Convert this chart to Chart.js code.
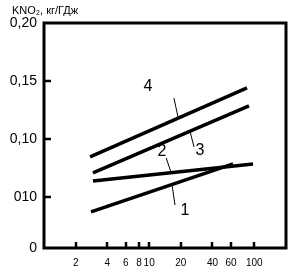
<!DOCTYPE html>
<html>
<head>
<meta charset="utf-8">
<script src="https://cdn.jsdelivr.net/npm/chart.js@4/dist/chart.umd.min.js"></script>
<style>
  html, body { margin: 0; padding: 0; background: #fff; }
  #wrap { width: 292px; height: 275px; }
</style>
</head>
<body>
<div id="wrap"><canvas id="chart" width="292" height="275"></canvas></div>
<script>
// --- data ---
const line1X = [2.80, 62.7];
const line1Y = [0.0371, 0.0785];
const line2X = [2.92, 97.1];
const line2Y = [0.0638, 0.0785];
const line3X = [2.92, 89.0];
const line3Y = [0.0707, 0.1285];
const line4X = [2.74, 85.2];
const line4Y = [0.0845, 0.1440];

// leader strokes from numbers to curves
const lead1X = [16.5, 17.6];
const lead1Y = [0.0604, 0.0431];
const lead2X = [14.5, 16.1];
const lead2Y = [0.0836, 0.0716];
const lead3X = [24.4, 26.7];
const lead3Y = [0.1069, 0.0931];
const lead4X = [17.2, 18.8];
const lead4Y = [0.1353, 0.1190];

const curveNames = ['1', '2', '3', '4'];
const nameX = [21.9, 13.2, 30.4, 9.75];
const nameY = [0.038, 0.0888, 0.0897, 0.1448];

const xTickValues = [2, 4, 6, 8, 10, 20, 40, 60, 100];
const yTickValues = [0.006, 0.05, 0.10, 0.15, 0.20];
const yTickLabels = ['0', '010', '0,10', '0,15', '0,20'];

const yTitle = 'KNO₂, кг/ГДж';
const FONT = '"Liberation Sans", Arial, sans-serif';

function pts(xs, ys) {
  return xs.map((x, i) => ({ x: x, y: ys[i] }));
}

function curve(xs, ys) {
  return { data: pts(xs, ys), borderColor: '#000', borderWidth: 3.5, pointRadius: 0, borderCapStyle: 'butt' };
}
function leader(xs, ys) {
  return { data: pts(xs, ys), borderColor: '#000', borderWidth: 1, pointRadius: 0 };
}

// frame, inward ticks, axis title and curve numbers
const framePlugin = {
  id: 'frame',
  afterDraw(chart) {
    const ctx = chart.ctx;
    const a = chart.chartArea;
    const xs = chart.scales.x;
    const ys = chart.scales.y;
    ctx.save();
    ctx.strokeStyle = '#000';
    ctx.lineWidth = 3;
    ctx.strokeRect(a.left, a.top, a.right - a.left, a.bottom - a.top);

    ctx.lineWidth = 2.5;
    xTickValues.forEach(v => {
      const px = Math.round(xs.getPixelForValue(v));
      ctx.beginPath();
      ctx.moveTo(px, a.bottom);
      ctx.lineTo(px, a.bottom - 6);
      ctx.stroke();
    });
    yTickValues.slice(1, 4).forEach(v => {
      const py = Math.round(ys.getPixelForValue(v));
      ctx.beginPath();
      ctx.moveTo(a.left, py);
      ctx.lineTo(a.left + 7, py);
      ctx.stroke();
    });

    ctx.fillStyle = '#000';
    ctx.textBaseline = 'middle';
    ctx.textAlign = 'left';
    ctx.font = '11px ' + FONT;
    ctx.fillText(yTitle, 12, 11);

    ctx.font = '16px ' + FONT;
    ctx.textAlign = 'center';
    curveNames.forEach((n, i) => {
      ctx.fillText(n, xs.getPixelForValue(nameX[i]), ys.getPixelForValue(nameY[i]));
    });
    ctx.restore();
  }
};

new Chart(document.getElementById('chart'), {
  type: 'line',
  data: {
    datasets: [
      curve(line1X, line1Y),
      curve(line2X, line2Y),
      curve(line3X, line3Y),
      curve(line4X, line4Y),
      leader(lead1X, lead1Y),
      leader(lead2X, lead2Y),
      leader(lead3X, lead3Y),
      leader(lead4X, lead4Y),
    ],
  },
  options: {
    responsive: false,
    animation: false,
    layout: { padding: { left: 0, right: 6, top: 23, bottom: 0 } },
    plugins: {
      legend: { display: false },
      tooltip: { enabled: false },
    },
    scales: {
      x: {
        type: 'logarithmic',
        min: 1,
        max: 200,
        afterBuildTicks: s => { s.ticks = xTickValues.map(v => ({ value: v })); },
        afterFit: s => { s.height = 27; },
        ticks: {
          color: '#000',
          padding: 9,
          maxRotation: 0,
          autoSkip: false,
          font: { family: FONT, size: 10 },
          callback: v => String(v),
        },
        grid: { display: false, drawTicks: false },
        border: { display: false },
      },
      y: {
        type: 'linear',
        min: 0.006,
        max: 0.2,
        afterBuildTicks: s => { s.ticks = yTickValues.map(v => ({ value: v })); },
        afterFit: s => { s.width = 44; },
        ticks: {
          color: '#000',
          padding: 7,
          autoSkip: false,
          font: { family: FONT, size: 14 },
          callback: v => yTickLabels[yTickValues.indexOf(v)],
        },
        grid: { display: false, drawTicks: false },
        border: { display: false },
      },
    },
  },
  plugins: [framePlugin],
});
</script>
</body>
</html>
